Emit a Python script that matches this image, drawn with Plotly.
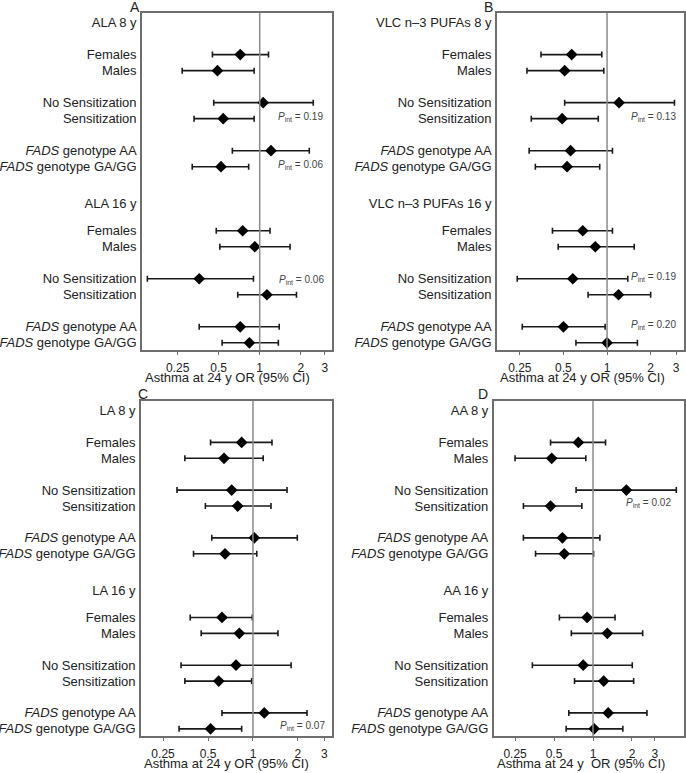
import plotly.graph_objects as go
import numpy as np

W, H = 686, 773

# ---------------- data ----------------
subgroups = ["Females", "Males", "No Sensitization", "Sensitization",
             "<i>FADS</i> genotype AA", "<i>FADS</i> genotype GA/GG"]
periods = ["8 y", "16 y"]
exposures = ["ALA", "VLC n–3 PUFAs", "LA", "AA"]
panel_letters = ["A", "B", "C", "D"]
x_ticks = [0.25, 0.5, 1, 2, 3]
x_ticktext = ["0.25", "0.5", "1", "2", "3"]
x_titles = ["Asthma at 24 y OR (95% CI)", "Asthma at 24 y OR (95% CI)",
            "Asthma at 24 y OR (95% CI)", "Asthma at 24 y  OR (95% CI)"]

# ALA
ala_or_8 = [0.72, 0.49, 1.06, 0.54, 1.21, 0.52]
ala_lo_8 = [0.45, 0.27, 0.46, 0.33, 0.63, 0.32]
ala_hi_8 = [1.16, 0.91, 2.47, 0.91, 2.31, 0.83]
ala_or_16 = [0.75, 0.92, 0.36, 1.13, 0.72, 0.84]
ala_lo_16 = [0.48, 0.51, 0.15, 0.69, 0.36, 0.53]
ala_hi_16 = [1.19, 1.67, 0.90, 1.86, 1.39, 1.37]
# VLC n-3 PUFAs
vlc_or_8 = [0.57, 0.51, 1.21, 0.49, 0.56, 0.53]
vlc_lo_8 = [0.35, 0.28, 0.51, 0.30, 0.29, 0.32]
vlc_hi_8 = [0.92, 0.95, 2.92, 0.87, 1.09, 0.89]
vlc_or_16 = [0.68, 0.83, 0.58, 1.20, 0.50, 1.00]
vlc_lo_16 = [0.42, 0.46, 0.24, 0.74, 0.26, 0.61]
vlc_hi_16 = [1.09, 1.54, 1.39, 2.00, 0.97, 1.62]
# LA
la_or_8 = [0.84, 0.64, 0.72, 0.79, 1.02, 0.65]
la_lo_8 = [0.52, 0.35, 0.31, 0.48, 0.53, 0.40]
la_hi_8 = [1.34, 1.17, 1.69, 1.32, 1.98, 1.06]
la_or_16 = [0.62, 0.81, 0.77, 0.59, 1.19, 0.52]
la_lo_16 = [0.38, 0.45, 0.33, 0.35, 0.62, 0.32]
la_hi_16 = [0.99, 1.47, 1.80, 0.98, 2.30, 0.84]
# AA
aa_or_8 = [0.77, 0.48, 1.81, 0.47, 0.58, 0.60]
aa_lo_8 = [0.47, 0.25, 0.74, 0.29, 0.29, 0.36]
aa_hi_8 = [1.25, 0.88, 4.40, 0.82, 1.13, 1.01]
aa_or_16 = [0.90, 1.29, 0.84, 1.21, 1.31, 1.02]
aa_lo_16 = [0.55, 0.68, 0.34, 0.72, 0.65, 0.62]
aa_hi_16 = [1.48, 2.42, 2.01, 2.06, 2.61, 1.70]

# P for interaction labels: (panel index, text)
p_int_panel = [0, 0, 0, 1, 1, 1, 2, 3]
p_int_text = ["0.19", "0.06", "0.06", "0.13", "0.19", "0.20", "0.07", "0.02"]

panels = [
    (ala_or_8, ala_lo_8, ala_hi_8, ala_or_16, ala_lo_16, ala_hi_16),
    (vlc_or_8, vlc_lo_8, vlc_hi_8, vlc_or_16, vlc_lo_16, vlc_hi_16),
    (la_or_8, la_lo_8, la_hi_8, la_or_16, la_lo_16, la_hi_16),
    (aa_or_8, aa_lo_8, aa_hi_8, aa_or_16, aa_lo_16, aa_hi_16),
]

# ---------------- layout geometry ----------------
header_slots = [0, 11.3]
row_slots = [[2, 3, 5, 6, 8, 9], [13, 14, 16, 17, 19, 20]]
p_int_slot = [5.9, 8.9, 16.1, 5.9, 15.9, 18.9, 19.8, 5.8]
p_int_xdom = [0.963, 0.963, 0.966, 0.97, 0.97, 0.97, 0.972, 0.945]
boxes = [  # left, right, top, bottom in px
    (142, 332, 13, 350),
    (497, 683.5, 13, 350),
    (141, 332, 401, 736),
    (493.7, 683.5, 401, 736),
]
x_ranges = [(0.137, 3.39), (0.174, 3.37), (0.178, 3.38), (0.171, 5.0)]
y_range = [20.45, -0.6]
letter_pos = [(135, 7), (488, 7), (143, 394), (483, 394)]

def px(x):
    return x / W

def py(y):
    return 1 - y / H

font_family = "Liberation Sans, Arial, Helvetica, sans-serif"
text_color = "#222222"
axis_color = "#6e6e6e"

fig = go.Figure()
annotations = []
shapes = []

for i, (exp, data) in enumerate(zip(exposures, panels)):
    ax = "" if i == 0 else str(i + 1)
    xa, ya = "x" + ax, "y" + ax
    l, r, t, b = boxes[i]

    tickvals, ticktext = [], []
    for pi, per in enumerate(periods):
        tickvals.append(header_slots[pi])
        ticktext.append(f"{exp} {per}")
        orv = np.array(data[pi * 3])
        lo = np.array(data[pi * 3 + 1])
        hi = np.array(data[pi * 3 + 2])
        ys = row_slots[pi]
        tickvals.extend(ys)
        ticktext.extend(subgroups)
        fig.add_trace(go.Scatter(
            x=orv, y=ys, mode="markers", xaxis=xa, yaxis=ya,
            marker=dict(symbol="diamond", size=9, color="black"),
            error_x=dict(type="data", symmetric=False,
                         array=hi - orv, arrayminus=orv - lo,
                         color="#1a1a1a", thickness=1.6, width=3),
            showlegend=False, hoverinfo="skip"))

    fig.update_layout(**{
        "xaxis" + ax: dict(
            type="log", domain=[px(l), px(r)],
            range=[np.log10(x_ranges[i][0]), np.log10(x_ranges[i][1])],
            anchor=ya, tickvals=x_ticks, ticktext=x_ticktext,
            ticks="outside", ticklen=3, tickcolor=axis_color,
            automargin=False, ticklabelstandoff=3,
            showgrid=False, zeroline=False, showline=True, mirror=True,
            linecolor=axis_color, linewidth=1.6,
            tickfont=dict(size=12, color=text_color, family=font_family)),
        "yaxis" + ax: dict(
            domain=[py(b), py(t)], range=y_range, anchor=xa,
            tickvals=tickvals, ticktext=ticktext, ticks="",
            ticklabelstandoff=1, automargin=False,
            showgrid=False, zeroline=False, showline=True, mirror=True,
            linecolor=axis_color, linewidth=1.6,
            tickfont=dict(size=13, color=text_color, family=font_family)),
    })

    # reference line at OR = 1
    shapes.append(dict(type="line", xref=xa, yref=ya + " domain",
                       x0=1, x1=1, y0=0, y1=1,
                       line=dict(color="#8a8a8a", width=1.5)))

    # x-axis title
    annotations.append(dict(
        text=x_titles[i], xref="paper", yref="paper",
        x=px(l + 1), y=py(b + 27), xanchor="left", yanchor="middle",
        showarrow=False,
        font=dict(size=13, color=text_color, family=font_family)))

    # panel letter
    lx, ly = letter_pos[i]
    annotations.append(dict(
        text=panel_letters[i], xref="paper", yref="paper",
        x=px(lx), y=py(ly), xanchor="center", yanchor="middle",
        showarrow=False,
        font=dict(size=14, color=text_color, family=font_family)))

for k, txt in enumerate(p_int_text):
    pi_ = p_int_panel[k]
    ax = "" if pi_ == 0 else str(pi_ + 1)
    annotations.append(dict(
        text=f"<i>P</i><sub>int</sub> = {txt}",
        xref="x" + ax + " domain", yref="y" + ax,
        x=p_int_xdom[k], y=p_int_slot[k], xanchor="right", yanchor="middle",
        showarrow=False,
        font=dict(size=10, color="#444444", family=font_family)))

fig.update_layout(
    width=W, height=H,
    margin=dict(l=0, r=0, t=0, b=0),
    paper_bgcolor="white", plot_bgcolor="white",
    font=dict(family=font_family, color=text_color),
    annotations=annotations, shapes=shapes,
)

fig.write_html("out.html",
               config={"displayModeBar": False},
               post_script="document.body.style.margin='0';"
                           "document.body.style.overflow='hidden';")
